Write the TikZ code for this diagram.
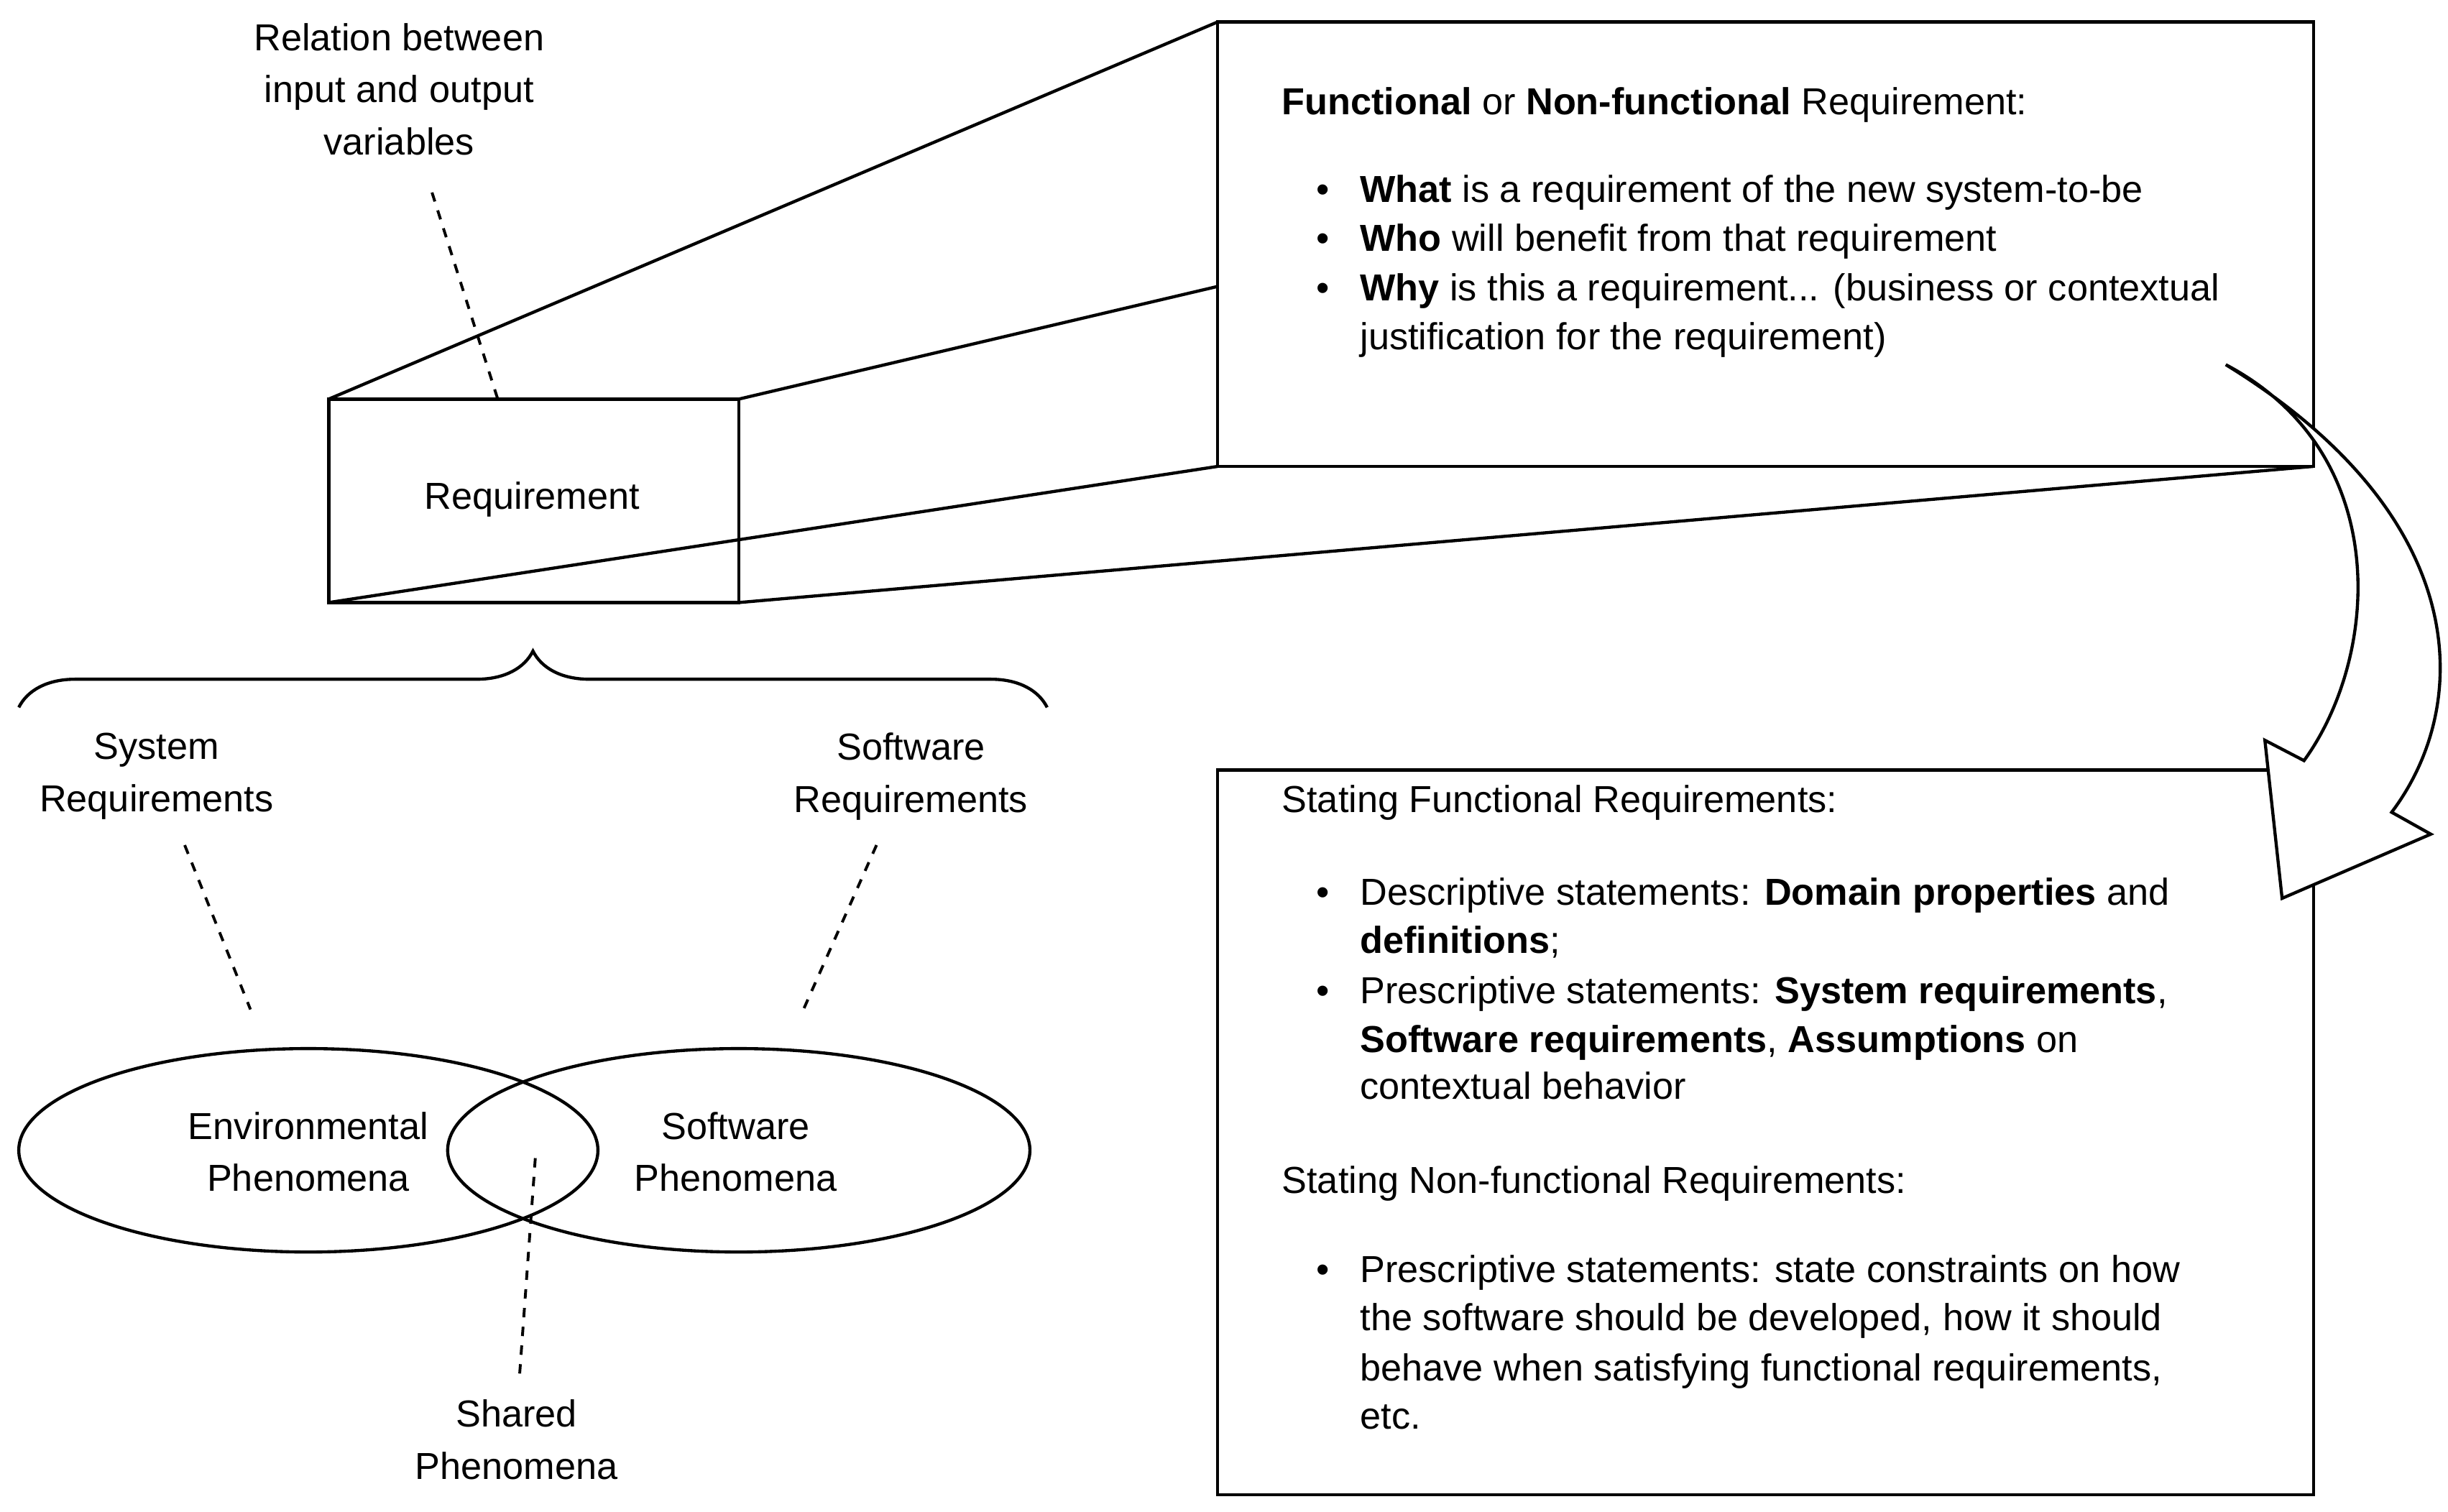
\documentclass[tikz,border=0pt]{standalone}
\usepackage{fontspec}
\setmainfont{Liberation Sans}
\usetikzlibrary{decorations.pathreplacing}
\begin{document}
\begin{tikzpicture}[x=0.5pt,y=-0.5pt,line width=1pt,
  txt/.style={inner sep=0pt,font=\fontsize{12}{15.5}\selectfont},
  ln/.style={txt,anchor=mid west},
  ctr/.style={txt,align=center},
  dline/.style={dashed,line width=0.9pt},
  bul/.style={txt,anchor=mid}]
\useasboundingbox (0,0) rectangle (1564,966);
% requirement box and projection
\draw (210,255) rectangle (472,385);
\node[txt] (req) at (340,319) {Requirement};
\draw (778,14) rectangle (1478,298);
\coordinate (a1) at (210,255); \coordinate (a2) at (778,14);
\coordinate (b1) at (472,255); \coordinate (b2) at (778,183);
\coordinate (c1) at (210,385); \coordinate (c2) at (778,298);
\coordinate (d1) at (472,385); \coordinate (d2) at (1478,298);
\draw (a1)--(a2); \draw (b1)--(b2); \draw (c1)--(c2); \draw (d1)--(d2);
\node[ctr] (rel) at (255,57) {Relation between\\[1.2pt]input and output\\[1.2pt]variables};
\coordinate (r1) at (276,123); \coordinate (r2) at (318,255);
\draw[dline] (r1)--(r2);
% top box text
\node[ln] (t0) at (818,68) {\textbf{Functional} or \textbf{Non-functional} Requirement:};
\foreach \y in {124,155,187} \node[bul] at (845,\y) {\textbullet};
\node[ln] (t1) at (868,124) {\textbf{What} is a requirement of the new system-to-be};
\node[ln] (t2) at (868,155) {\textbf{Who} will benefit from that requirement};
\node[ln] (t3) at (868,187) {\textbf{Why} is this a requirement... (business or contextual};
\node[ln] (t4) at (868,218) {justification for the requirement)};
% brace
\draw[decorate,decoration={brace,amplitude=18pt}] (12,452) -- (669,452);
\node[ctr] (sys) at (100,496) {System\\[1.2pt]Requirements};
\node[ctr] (sw) at (582,496) {Software\\[1.2pt]Requirements};
\coordinate (s1) at (118,540); \coordinate (s2) at (160,645);
\coordinate (w1) at (560,540); \coordinate (w2) at (512,648);
\draw[dline] (s1)--(s2); \draw[dline] (w1)--(w2);
% ellipses
\draw (197,735) ellipse [x radius=185, y radius=65];
\draw (472,735) ellipse [x radius=186, y radius=65];
\node[ctr] (env) at (197,736) {Environmental\\[1.2pt]Phenomena};
\node[ctr] (swp) at (470,736) {Software\\[1.2pt]Phenomena};
\coordinate (h1) at (342,740); \coordinate (h2) at (332,878);
\draw[dline] (h1)--(h2);
\node[ctr] (sh) at (330,920) {Shared\\[1.2pt]Phenomena};
% lower box
\draw (778,492) rectangle (1478,955);
\node[ln] (l0) at (818,514) {Stating Functional Requirements:};
\foreach \y in {573,636,814} \node[bul] at (845,\y) {\textbullet};
\node[ln] at (868,573) {Descriptive statements: \textbf{Domain properties} and};
\node[ln] at (868,604) {\textbf{definitions};};
\node[ln] at (868,636) {Prescriptive statements: \textbf{System requirements},};
\node[ln] at (868,667) {\textbf{Software requirements}, \textbf{Assumptions} on};
\node[ln] at (868,697) {contextual behavior};
\node[ln] (l1) at (818,757) {Stating Non-functional Requirements:};
\node[ln] at (868,814) {Prescriptive statements: state constraints on how};
\node[ln] at (868,845) {the software should be developed, how it should};
\node[ln] at (868,877) {behave when satisfying functional requirements,};
\node[ln] at (868,908) {etc.};
% curved arrow
\draw[fill=white,line join=miter] (1422,233) .. controls (1530,290) and (1520,420) .. (1472,486)
  -- (1447,473) -- (1458,574) -- (1553,533) -- (1528,519)
  .. controls (1580,450) and (1580,330) .. (1422,233) -- cycle;
\end{tikzpicture}
\end{document}
